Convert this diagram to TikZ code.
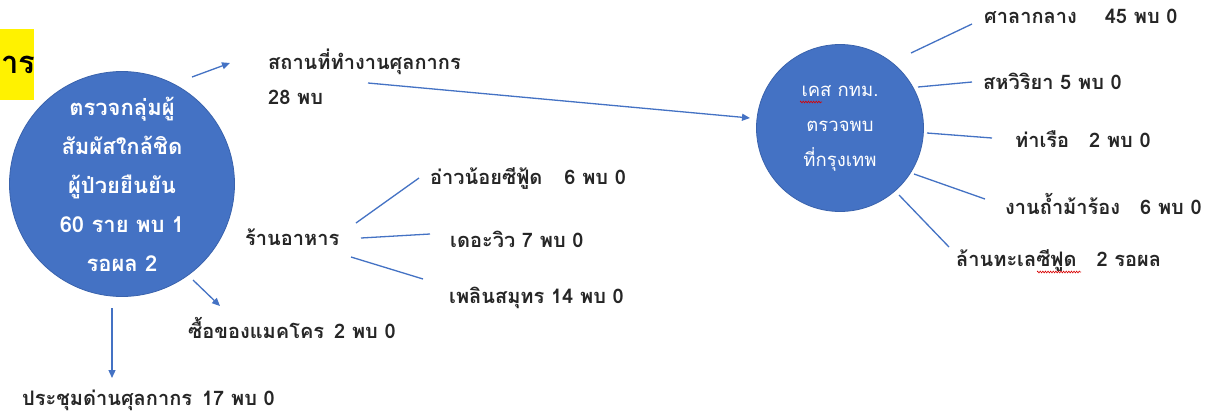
\documentclass[tikz,border=0pt]{standalone}
\usepackage{fontspec}
\setmainfont{Liberation Sans}
\newfontfamily\thai[Script=Thai]{Loma}
\usetikzlibrary{arrows.meta,decorations.pathmorphing}
\definecolor{obl}{HTML}{4472C4}
\definecolor{obd}{HTML}{3A63AD}
\tikzset{
  lbl/.style={anchor=west,inner sep=0pt,font=\thai\bfseries\fontsize{20}{22}\selectfont,text=black!85},
  conn/.style={draw=obl,line width=1.3pt},
  arr/.style={conn,-{Triangle[length=8pt,width=7pt]}},
  bigc/.style={circle,fill=obl,draw=obd,line width=0.8pt,text=white,align=center,inner sep=0pt},
  squig/.style={draw=red!85!black,line width=0.6pt,decorate,decoration={zigzag,amplitude=0.9pt,segment length=2.6pt}},
}
\begin{document}
\begin{tikzpicture}[x=1pt,y=-1pt]
\useasboundingbox (0,0) rectangle (1211,416);
\fill[white] (0,0) rectangle (1211,416);
% title fragment
\node[fill=yellow,minimum width=34pt,minimum height=71pt,anchor=north west,inner sep=0pt] (ttl) at (0,29) {};
\node[anchor=west,inner sep=0pt,font=\thai\bfseries\fontsize{31}{33}\selectfont] (ttltx) at (1,65) {าร};
% left circle
\node[bigc,minimum size=225pt,font=\thai\bfseries\fontsize{22}{39}\selectfont] (L) at (122,184)
 {ตรวจกลุ่มผู้\\สัมผัสใกล้ชิด\\ผู้ป่วยยืนยัน\\60 ราย พบ 1\\รอผล 2};
% right circle
\node[bigc,minimum size=167pt,font=\thai\fontsize{18.5}{35}\selectfont] (R) at (840,128)
 {เคส กทม.\\ตรวจพบ\\ที่กรุงเทพ};
% labels
\node[lbl] (s1) at (268,62) {สถานที่ทำงานศุลกากร};
\node[lbl] (s1b) at (268,97) {28 พบ};
\node[lbl] (food) at (245,237) {ร้านอาหาร};
\node[lbl] (f1) at (430,178) {อ่าวน้อยซีฟู้ด\hspace{1.1em}6 พบ 0};
\node[lbl] (f2) at (450,239) {เดอะวิว 7 พบ 0};
\node[lbl] (f3) at (449,298) {เพลินสมุทร 14 พบ 0};
\node[lbl] (mk) at (188,328) {ซื้อของแมคโคร\hspace{0.5em}2 พบ 0};
\node[lbl] (mt) at (22,400) {ประชุมด่านศุลกากร\hspace{0.5em}17 พบ 0};
\node[lbl] (r1) at (984,16) {ศาลากลาง\hspace{1.4em}45 พบ 0};
\node[lbl] (r2) at (983,81) {สหวิริยา 5 พบ 0};
\node[lbl] (r3) at (1015,139) {ท่าเรือ\hspace{1em}2 พบ 0};
\node[lbl] (r4) at (1005,204) {งานถ้ำม้าร้อง\hspace{1em}6 พบ 0};
\node[lbl] (r5) at (956,260) {ล้านทะเลซีฟูด\hspace{1em}2 รอผล};
% spell-check squiggles
\draw[squig] (800,102) -- (822,102);
\draw[squig] (1037,272) -- (1081,272);
% connector end points
\coordinate (a1s) at (192,77);  \coordinate (a1e) at (230,63);
\coordinate (a2s) at (368,83);  \coordinate (a2e) at (750,118);
\coordinate (a3s) at (193,280); \coordinate (a3e) at (220,306);
\coordinate (a4s) at (112,308); \coordinate (a4e) at (112,378);
\coordinate (b1s) at (356,223); \coordinate (b1e) at (419,178);
\coordinate (b2s) at (361,238); \coordinate (b2e) at (430,234);
\coordinate (b3s) at (351,257); \coordinate (b3e) at (423,279);
\coordinate (c1s) at (911,53);  \coordinate (c1e) at (972,24);
\coordinate (c2s) at (918,87);  \coordinate (c2e) at (972,82);
\coordinate (c3s) at (927,133); \coordinate (c3e) at (992,138);
\coordinate (c4s) at (914,174); \coordinate (c4e) at (985,199);
\coordinate (c5s) at (899,195); \coordinate (c5e) at (949,247);
\draw[arr] (a1s) -- (a1e);
\draw[arr] (a2s) -- (a2e);
\draw[arr] (a3s) -- (a3e);
\draw[arr] (a4s) -- (a4e);
\draw[conn] (b1s) -- (b1e);
\draw[conn] (b2s) -- (b2e);
\draw[conn] (b3s) -- (b3e);
\draw[conn] (c1s) -- (c1e);
\draw[conn] (c2s) -- (c2e);
\draw[conn] (c3s) -- (c3e);
\draw[conn] (c4s) -- (c4e);
\draw[conn] (c5s) -- (c5e);
\end{tikzpicture}
\end{document}
